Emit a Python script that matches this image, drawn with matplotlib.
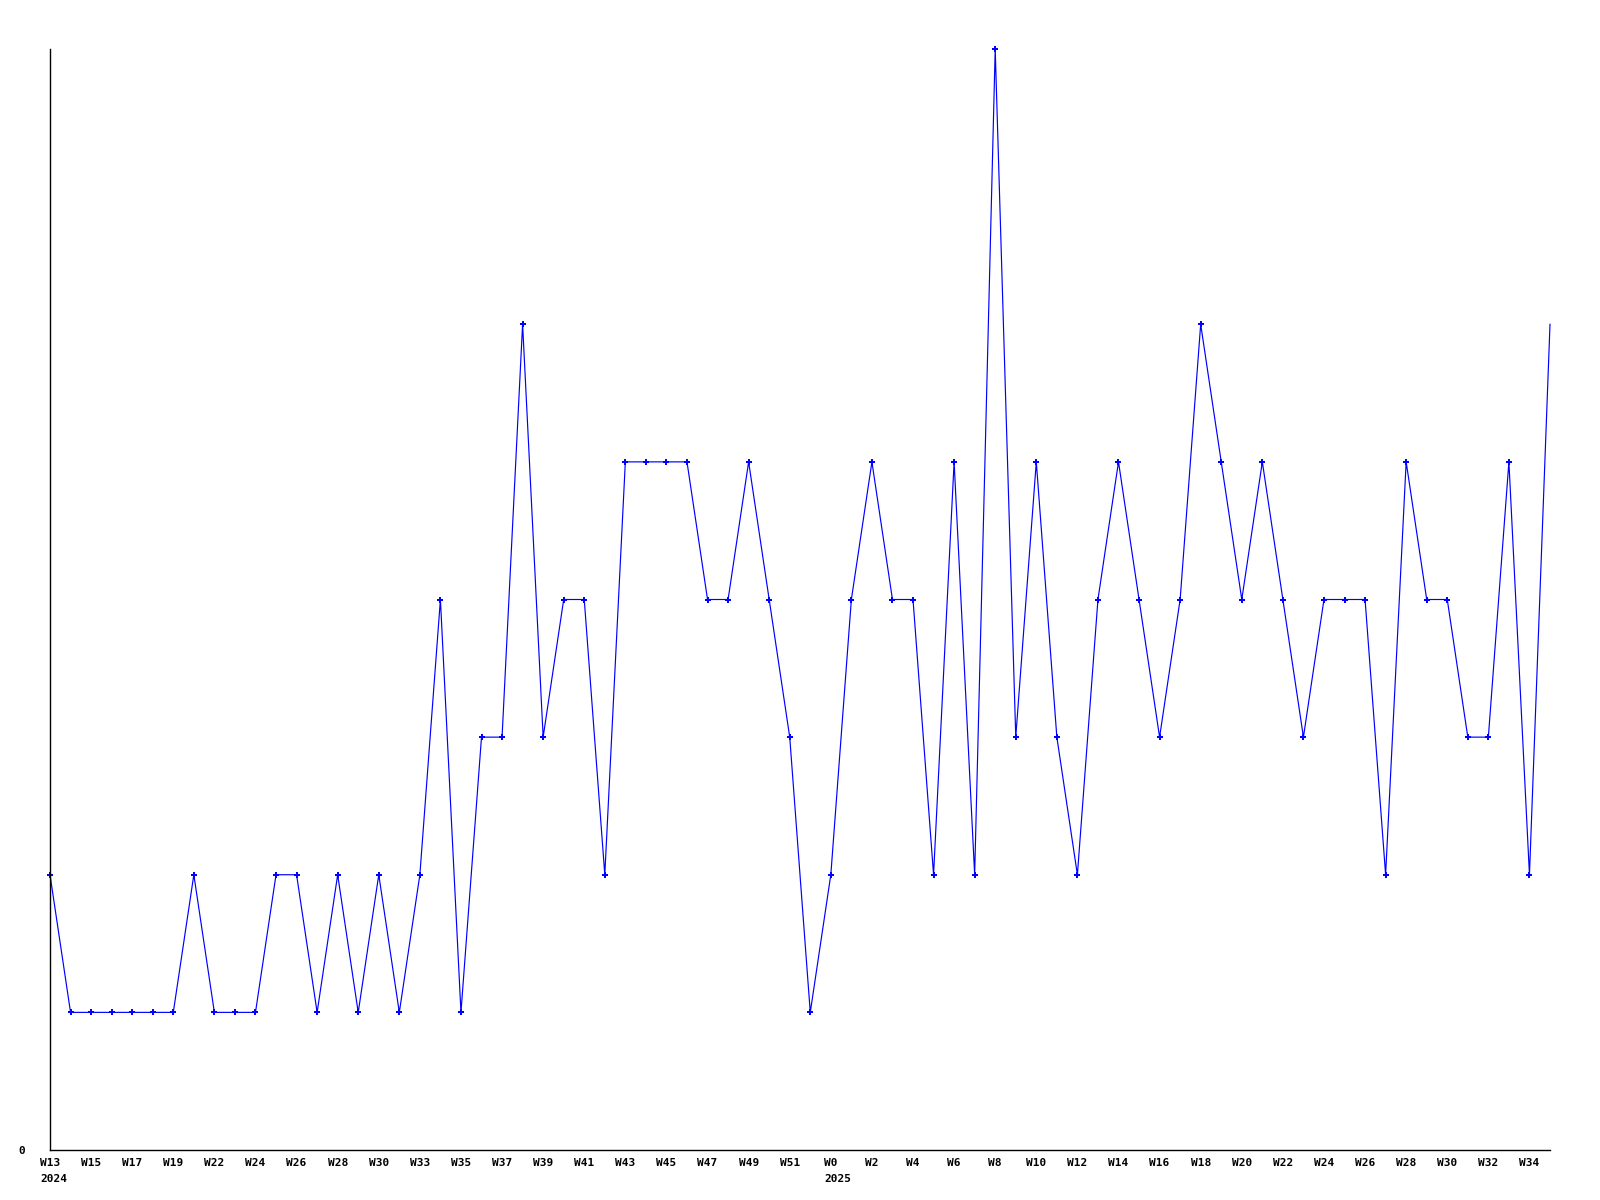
import matplotlib
matplotlib.use("Agg")
import matplotlib.pyplot as plt

# Weekly values (index = point position along x)
values = [2, 1, 1, 1, 1, 1, 1, 2, 1, 1,
          1, 2, 2, 1, 2, 1, 2, 1, 2, 4,
          1, 3, 3, 6, 3, 4, 4, 2, 5, 5,
          5, 5, 4, 4, 5, 4, 3, 1, 2, 4,
          5, 4, 4, 2, 5, 2, 8, 3, 5, 3,
          2, 4, 5, 4, 3, 4, 6, 5, 4, 5,
          4, 3, 4, 4, 4, 2, 5, 4, 4, 3,
          3, 5, 2, 6]

# Labels on every other point
tick_labels = ["W13", "W15", "W17", "W19", "W22", "W24", "W26", "W28", "W30",
               "W33", "W35", "W37", "W39", "W41", "W43", "W45", "W47", "W49",
               "W51", "W0", "W2", "W4", "W6", "W8", "W10", "W12", "W14", "W16",
               "W18", "W20", "W22", "W24", "W26", "W28", "W30", "W32", "W34"]

# Year markers: (tick label index, year)
year_ticks = [(0, "2024"), (19, "2025")]

fs = 8
font = dict(family="DejaVu Sans Mono", weight="bold", size=fs)

fig = plt.figure(figsize=(16, 12), dpi=100)
ax = fig.add_axes([50/1600, 1 - 1150/1200, 1500/1600, 1101/1200])

x = list(range(len(values)))
ax.plot(x, values, color=(0, 0, 1), linewidth=0.85, marker="P",
        markersize=4.5, markeredgewidth=0, clip_on=False,
        markevery=list(range(len(values) - 1)))

ax.set_xlim(0, len(values) - 1)
ax.set_ylim(0, 8)

tick_pos = [2 * i for i in range(len(tick_labels))]
ax.set_xticks(tick_pos)
ax.set_xticklabels(tick_labels, **font)
ax.set_yticks([0])
ax.set_yticklabels(["0"], **font)
ax.tick_params(axis="x", length=0, pad=6)
ax.tick_params(axis="y", length=0, pad=18)

for spine in ["top", "right"]:
    ax.spines[spine].set_visible(False)
for spine in ["left", "bottom"]:
    ax.spines[spine].set_linewidth(1.0)
    ax.spines[spine].set_color("black")

for ti, year in year_ticks:
    lab = tick_labels[ti]
    off = -len(lab) * 0.602 * fs / 2
    ax.annotate(year, xy=(tick_pos[ti], 0), xycoords=("data", "axes fraction"),
                xytext=(off, -17), textcoords="offset points",
                ha="left", va="top", **font)

fig.savefig("out.png", dpi=100, facecolor="white")
